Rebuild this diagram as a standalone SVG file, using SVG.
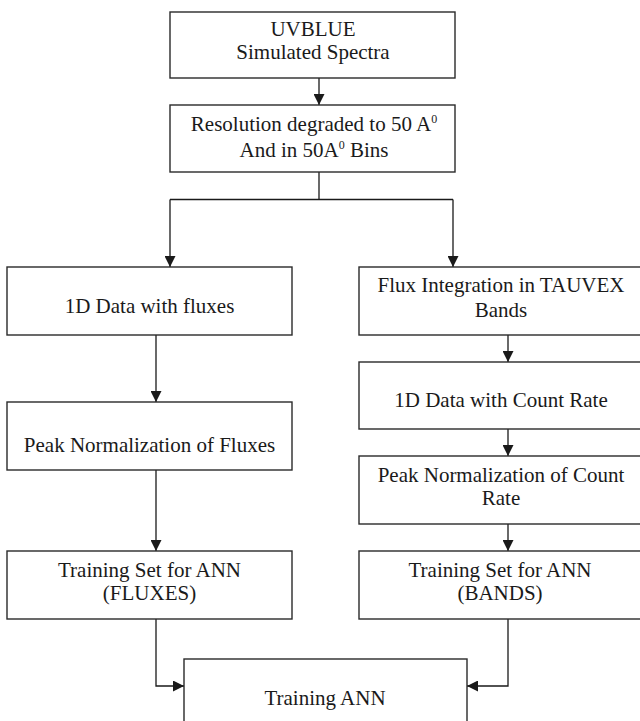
<svg xmlns="http://www.w3.org/2000/svg" width="640" height="721" viewBox="0 0 640 721">
  <style>
    .box { fill: #ffffff; stroke: #2a2a2a; stroke-width: 1.4; }
    .lbl { font-family: "Liberation Serif", "Times New Roman", serif; font-size: 21px; fill: #1a1a1a; text-anchor: middle; }
    .sup { font-size: 12px; }
    .conn { fill: none; stroke: #1a1a1a; stroke-width: 1.3; }
  </style>
  <defs>
    <marker id="arrow" viewBox="0 0 10 10" markerUnits="userSpaceOnUse" markerWidth="11" markerHeight="11" refX="10" refY="5" orient="auto">
      <path d="M0,0 L10,5 L0,10 z" fill="#1a1a1a"/>
    </marker>
  </defs>
  <rect x="0" y="0" width="640" height="721" fill="#ffffff"/>

  <g id="connectors">
    <path class="conn" d="M319,78 V105" marker-end="url(#arrow)"/>
    <path class="conn" d="M319,172 V199.5"/>
    <path class="conn" d="M170,199.5 H453"/>
    <path class="conn" d="M170,199.5 V267" marker-end="url(#arrow)"/>
    <path class="conn" d="M453,199.5 V267" marker-end="url(#arrow)"/>
    <path class="conn" d="M156,335 V402" marker-end="url(#arrow)"/>
    <path class="conn" d="M156,470 V551" marker-end="url(#arrow)"/>
    <path class="conn" d="M508,335 V362" marker-end="url(#arrow)"/>
    <path class="conn" d="M508,429 V456" marker-end="url(#arrow)"/>
    <path class="conn" d="M508,524 V551" marker-end="url(#arrow)"/>
    <path class="conn" d="M156,619 V686 H184" marker-end="url(#arrow)"/>
    <path class="conn" d="M508,619 V686 H467" marker-end="url(#arrow)"/>
  </g>

  <g id="uvblue">
    <rect class="box" x="170" y="12" width="285" height="66"/>
    <text class="lbl" x="313" y="36">UVBLUE</text>
    <text class="lbl" x="313" y="59">Simulated Spectra</text>
  </g>

  <g id="resolution">
    <rect class="box" x="170" y="105" width="285" height="67"/>
    <text class="lbl" x="314" y="131">Resolution degraded to 50 A<tspan class="sup" dy="-8">0</tspan></text>
    <text class="lbl" x="314" y="157">And in 50A<tspan class="sup" dy="-8">0</tspan><tspan dy="8"> Bins</tspan></text>
  </g>

  <g id="data-fluxes">
    <rect class="box" x="7" y="267" width="285" height="68"/>
    <text class="lbl" x="149.5" y="313">1D Data with fluxes</text>
  </g>

  <g id="peak-fluxes">
    <rect class="box" x="7" y="402" width="285" height="68"/>
    <text class="lbl" x="149.5" y="452">Peak Normalization of Fluxes</text>
  </g>

  <g id="train-fluxes">
    <rect class="box" x="7" y="551" width="285" height="68"/>
    <text class="lbl" x="149.5" y="577">Training Set for ANN</text>
    <text class="lbl" x="149.5" y="600">(FLUXES)</text>
  </g>

  <g id="flux-integration">
    <rect class="box" x="359" y="267" width="284" height="68"/>
    <text class="lbl" x="501" y="292">Flux Integration in TAUVEX</text>
    <text class="lbl" x="501" y="317">Bands</text>
  </g>

  <g id="data-count">
    <rect class="box" x="359" y="362" width="284" height="67"/>
    <text class="lbl" x="501" y="407">1D Data with Count Rate</text>
  </g>

  <g id="peak-count">
    <rect class="box" x="359" y="456" width="284" height="68"/>
    <text class="lbl" x="501" y="482">Peak Normalization of Count</text>
    <text class="lbl" x="501" y="505">Rate</text>
  </g>

  <g id="train-bands">
    <rect class="box" x="359" y="551" width="284" height="68"/>
    <text class="lbl" x="500" y="577">Training Set for ANN</text>
    <text class="lbl" x="500" y="600">(BANDS)</text>
  </g>

  <g id="training-ann">
    <rect class="box" x="184" y="659" width="283" height="90"/>
    <text class="lbl" x="325" y="705">Training ANN</text>
  </g>
</svg>
